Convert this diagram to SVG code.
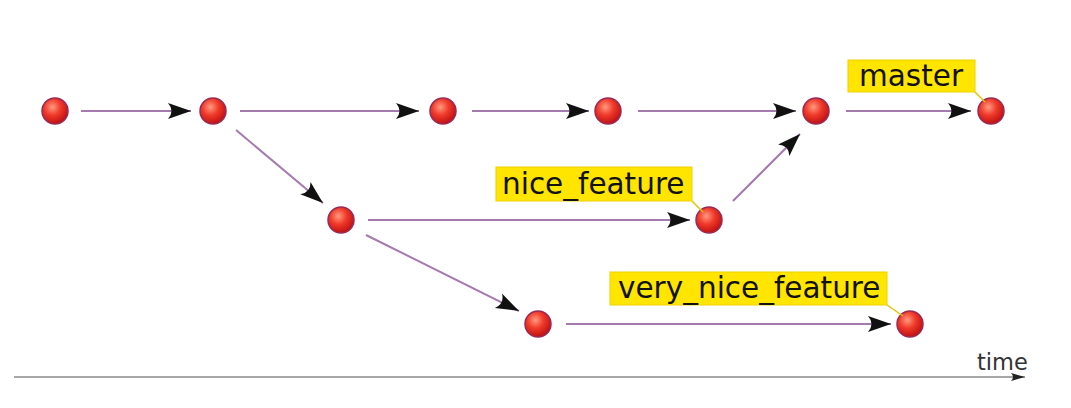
<svg xmlns="http://www.w3.org/2000/svg" width="1071" height="408" viewBox="0 0 1071 408">
<style>
.node{fill:url(#rg);stroke:#9a2a55;stroke-width:1.5}
.edge{stroke:#a57aae;stroke-width:2;fill:none;marker-end:url(#ah)}
.tag{fill:#ffe500;stroke:#f0d000;stroke-width:1}
.tagline{stroke:#e8c200;stroke-width:1.5}
.lbl{font-family:"DejaVu Sans",sans-serif;font-size:29.5px;fill:#111}
.axis{stroke:#888;stroke-width:1.5;marker-end:url(#ah2)}
.tlbl{font-family:"DejaVu Sans",sans-serif;font-size:22.5px;fill:#333}
</style>
<defs>
<radialGradient id="rg" cx="0.4" cy="0.35" r="0.7">
<stop offset="0" stop-color="#ff9a80"/>
<stop offset="0.45" stop-color="#f03a2a"/>
<stop offset="1" stop-color="#b80c10"/>
</radialGradient>
<marker id="ah" markerWidth="26" markerHeight="18" viewBox="-26 -9 26 18" refX="0" refY="0" orient="auto" markerUnits="userSpaceOnUse">
<path d="M0,0 L-23,-8 Q-16,0 -23,8 Z" fill="#111"/>
</marker>
<marker id="ah2" markerWidth="16" markerHeight="10" viewBox="-16 -5 16 10" refX="0" refY="0" orient="auto" markerUnits="userSpaceOnUse">
<path d="M0,0 L-14,-4 Q-10,0 -14,4 Z" fill="#222"/>
</marker>
</defs>
<g id="connectors">
<line class="edge" x1="81" y1="111" x2="191" y2="111"/>
<line class="edge" x1="240" y1="111" x2="419" y2="111"/>
<line class="edge" x1="472" y1="111" x2="589" y2="111"/>
<line class="edge" x1="638" y1="111" x2="796" y2="111"/>
<line class="edge" x1="846" y1="111" x2="971" y2="111"/>
<line class="edge" x1="236" y1="130" x2="323" y2="203"/>
<line class="edge" x1="368" y1="220" x2="690" y2="220"/>
<line class="edge" x1="733" y1="201" x2="800" y2="134"/>
<line class="edge" x1="366" y1="235" x2="519" y2="311"/>
<line class="edge" x1="566" y1="324" x2="891" y2="324"/>
</g>
<g id="n1"><circle class="node" cx="55" cy="111" r="13"/></g>
<g id="n2"><circle class="node" cx="213" cy="111" r="13"/></g>
<g id="n3"><circle class="node" cx="443" cy="111" r="13"/></g>
<g id="n4"><circle class="node" cx="608" cy="111" r="13"/></g>
<g id="n5"><circle class="node" cx="816" cy="111" r="13"/></g>
<g id="n6"><circle class="node" cx="991" cy="111" r="13"/></g>
<g id="n7"><circle class="node" cx="341" cy="220" r="13"/></g>
<g id="n8"><circle class="node" cx="709" cy="220" r="13"/></g>
<g id="n9"><circle class="node" cx="538" cy="324" r="13"/></g>
<g id="n10"><circle class="node" cx="910" cy="324" r="13"/></g>
<g id="tag-master">
<line class="tagline" x1="975" y1="92" x2="985" y2="102"/>
<rect class="tag" x="848" y="60" width="127" height="32"/>
<text class="lbl" x="859" y="86">master</text>
</g>
<g id="tag-nice">
<line class="tagline" x1="692" y1="201" x2="703" y2="212"/>
<rect class="tag" x="496" y="167" width="196" height="34"/>
<text class="lbl" x="502" y="194">nice_feature</text>
</g>
<g id="tag-verynice">
<line class="tagline" x1="887" y1="305" x2="903" y2="316"/>
<rect class="tag" x="610" y="272" width="277" height="33"/>
<text class="lbl" x="618" y="298">very_nice_feature</text>
</g>
<g id="axis">
<line class="axis" x1="14" y1="377" x2="1025" y2="377"/>
<text class="tlbl" x="977" y="370">time</text>
</g>
</svg>
